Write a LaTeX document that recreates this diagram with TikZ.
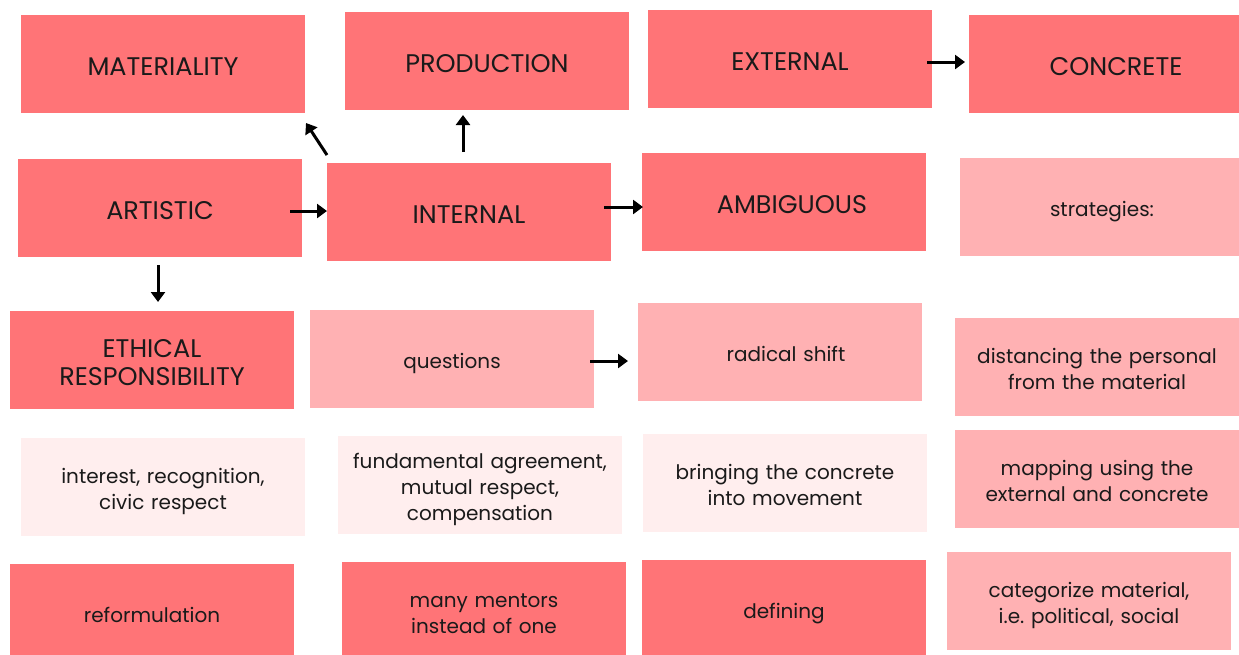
\documentclass[tikz,border=0pt]{standalone}
\usepackage{fontspec}
\setmainfont{Poppins}
\usetikzlibrary{arrows.meta,calc,positioning}

\definecolor{coral}{HTML}{FF7477}
\definecolor{salmon}{HTML}{FFB1B3}
\definecolor{shell}{HTML}{FFEEEE}
\definecolor{ink}{HTML}{1A1A1A}

\begin{document}
\begin{tikzpicture}[
    x=1pt, y=-1pt,
    align=center,
    text=ink,
    card/.style={rectangle, minimum width=284pt, minimum height=98pt,
                 text width=276pt, inner sep=0pt, outer sep=0pt,
                 font=\fontsize{20}{26}\selectfont,
                 execute at begin node={\rule{0pt}{25pt}},
                 execute at end node={\rule[-7pt]{0pt}{7pt}}},
    caps/.style={font=\fontsize{25.5}{28.5}\selectfont,
                 execute at begin node={\rule{0pt}{30pt}},
                 execute at end node={\rule[-5pt]{0pt}{5pt}}},
    term/.style={card, fill=coral},
    lead/.style={card, fill=salmon},
    gloss/.style={card, fill=shell},
    link/.style={-{Triangle[length=10pt,width=14pt]}, line width=3pt}]
    \useasboundingbox (0,0) rectangle (1239,654);

    % top row
    \node[term,caps] (materiality) at (163,64) {MATERIALITY};
    \node[term,caps] (production) at (487,61) {PRODUCTION};
    \node[term,caps] (external) at (790,59) {EXTERNAL};
    \node[term,caps] (concrete) at (1111,64) {\hspace*{10pt}CONCRETE};

    % second row
    \node[term,caps] (artistic) at (160,208) {ARTISTIC};
    \node[term,caps] (internal) at (469,212) {INTERNAL};
    \node[term,caps] (ambiguous) at (784,202) {\hspace*{16pt}AMBIGUOUS};
    \node[lead] (strategies) at (1102,207) {strategies:};

    \node[term,caps] (ethical) at (152,360) {ETHICAL\\RESPONSIBILITY};
    \node[lead] (questions) at (452,359) {questions};
    \node[lead] (shift) at (780,352) {\hspace*{12pt}radical shift};
    \node[lead] (distancing) at (1097,367) {distancing the personal\\from the material};

    \node[gloss] (interest) at (163,487) {interest, recognition,\\civic respect};
    \node[gloss] (agreement) at (480,485) {fundamental agreement,\\mutual respect,\\compensation};
    \node[gloss] (bringing) at (785,483) {bringing the concrete\\into movement};
    \node[lead] (mapping) at (1097,479) {mapping using the\\external and concrete};

    % bottom row runs off the page
    \node[term] (reformulation) at (152,613) {reformulation};
    \node[term] (mentors) at (484,611) {many mentors\\instead of one};
    \node[term] (defining) at (784,609) {defining};
    \node[lead] (categorize) at (1089,601) {categorize material,\\i.e.\ political, social};

    % arrows
    \draw[link] ($(artistic.east)+(-12,3)$) -- ($(internal.west)+(0,-1)$);
    \draw[link] ($(internal.north west)+(0,-8)$) -- ($(materiality.south east)+(1,10)$);
    \draw[link] ($(internal.north)+(-6,-11)$) -- ($(production.south)+(-24,5)$);
    \draw[link] ($(internal.east)+(-7,-5)$) -- ($(ambiguous.west)+(1,5)$);
    \draw[link] ($(external.east)+(-5,3)$) -- ($(concrete.west)+(-4,-2)$);
    \draw[link] ($(artistic.south)+(-2,8)$) -- ($(ethical.north)+(6,-9)$);
    \draw[link] ($(questions.east)+(-4,2)$) -- ($(shift.west)+(-10,9)$);
\end{tikzpicture}
\end{document}
